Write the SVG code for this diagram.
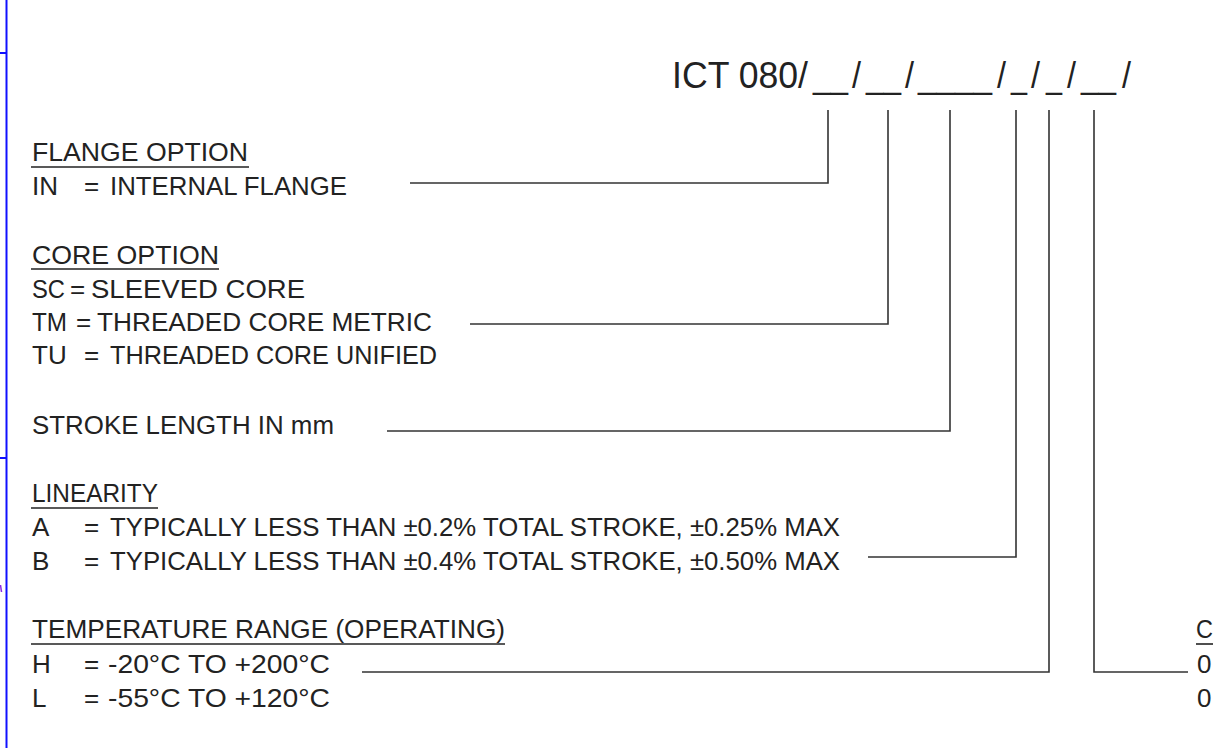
<svg xmlns="http://www.w3.org/2000/svg" width="1213" height="748" viewBox="0 0 1213 748">
<style>
  .t { font-family: "Liberation Sans", Arial, sans-serif; font-size: 26px; fill: #222; }
  .title { font-family: "Liberation Sans", Arial, sans-serif; font-size: 36px; fill: #222; }
  .ul { stroke: #222; stroke-width: 1.6; }
  .conn { fill: none; stroke: #333; stroke-width: 1.6; }
  .frame { stroke: #1010ff; stroke-width: 2; fill: none; }
</style>
<rect width="1213" height="748" fill="#ffffff"/>
<g id="frame">
  <line class="frame" x1="6.5" y1="0" x2="6.5" y2="748"/>
  <line class="frame" x1="0" y1="53" x2="6" y2="53" stroke-width="1.5"/>
  <line class="frame" x1="0" y1="458" x2="6" y2="458" stroke-width="1.5"/>
  <line x1="0.5" y1="585" x2="1.5" y2="592" stroke="#8a2be2" stroke-width="1.5"/>
</g>
<g id="title">
  <text class="title" y="88">
    <tspan x="672" textLength="136" lengthAdjust="spacingAndGlyphs">ICT 080/</tspan>
    <tspan x="813" textLength="35" lengthAdjust="spacingAndGlyphs">__</tspan>
    <tspan x="852" textLength="9" lengthAdjust="spacingAndGlyphs">/</tspan>
    <tspan x="866" textLength="35" lengthAdjust="spacingAndGlyphs">__</tspan>
    <tspan x="905" textLength="9" lengthAdjust="spacingAndGlyphs">/</tspan>
    <tspan x="918" textLength="74" lengthAdjust="spacingAndGlyphs">____</tspan>
    <tspan x="997" textLength="9" lengthAdjust="spacingAndGlyphs">/</tspan>
    <tspan x="1011" textLength="16" lengthAdjust="spacingAndGlyphs">_</tspan>
    <tspan x="1031" textLength="9" lengthAdjust="spacingAndGlyphs">/</tspan>
    <tspan x="1046" textLength="16" lengthAdjust="spacingAndGlyphs">_</tspan>
    <tspan x="1067" textLength="9" lengthAdjust="spacingAndGlyphs">/</tspan>
    <tspan x="1081" textLength="35" lengthAdjust="spacingAndGlyphs">__</tspan>
    <tspan x="1122" textLength="9" lengthAdjust="spacingAndGlyphs">/</tspan>
  </text>
</g>
<g id="flange-option">
  <text class="t" x="32" y="161" textLength="216" lengthAdjust="spacingAndGlyphs">FLANGE OPTION</text>
  <line class="ul" x1="31" y1="167" x2="249" y2="167"/>
  <text class="t" y="195"><tspan x="32">IN</tspan><tspan x="84">=</tspan><tspan x="110" textLength="237" lengthAdjust="spacingAndGlyphs">INTERNAL FLANGE</tspan></text>
</g>
<g id="core-option">
  <text class="t" x="32" y="264" textLength="187" lengthAdjust="spacingAndGlyphs">CORE OPTION</text>
  <line class="ul" x1="31" y1="269" x2="219" y2="269"/>
  <text class="t" y="298"><tspan x="32" textLength="33" lengthAdjust="spacingAndGlyphs">SC</tspan><tspan x="70">=</tspan><tspan x="91" textLength="214" lengthAdjust="spacingAndGlyphs">SLEEVED CORE</tspan></text>
  <text class="t" y="331"><tspan x="32" textLength="35" lengthAdjust="spacingAndGlyphs">TM</tspan><tspan x="76">=</tspan><tspan x="97" textLength="335" lengthAdjust="spacingAndGlyphs">THREADED CORE METRIC</tspan></text>
  <text class="t" y="364"><tspan x="32">TU</tspan><tspan x="84">=</tspan><tspan x="110" textLength="327" lengthAdjust="spacingAndGlyphs">THREADED CORE UNIFIED</tspan></text>
</g>
<g id="stroke-length">
  <text class="t" x="32" y="434" textLength="302" lengthAdjust="spacingAndGlyphs">STROKE LENGTH IN mm</text>
</g>
<g id="linearity">
  <text class="t" x="32" y="502" textLength="126" lengthAdjust="spacingAndGlyphs">LINEARITY</text>
  <line class="ul" x1="31" y1="508" x2="158" y2="508"/>
  <text class="t" y="536"><tspan x="32">A</tspan><tspan x="84">=</tspan><tspan x="110" textLength="730" lengthAdjust="spacingAndGlyphs">TYPICALLY LESS THAN ±0.2% TOTAL STROKE, ±0.25% MAX</tspan></text>
  <text class="t" y="570"><tspan x="32">B</tspan><tspan x="84">=</tspan><tspan x="110" textLength="730" lengthAdjust="spacingAndGlyphs">TYPICALLY LESS THAN ±0.4% TOTAL STROKE, ±0.50% MAX</tspan></text>
</g>
<g id="temperature-range">
  <text class="t" x="32" y="638" textLength="473" lengthAdjust="spacingAndGlyphs">TEMPERATURE RANGE (OPERATING)</text>
  <line class="ul" x1="31" y1="644" x2="505" y2="644"/>
  <text class="t" y="673"><tspan x="32">H</tspan><tspan x="84">=</tspan><tspan x="108" textLength="222" lengthAdjust="spacingAndGlyphs">-20°C TO +200°C</tspan></text>
  <text class="t" y="707"><tspan x="32">L</tspan><tspan x="84">=</tspan><tspan x="108" textLength="222" lengthAdjust="spacingAndGlyphs">-55°C TO +120°C</tspan></text>
</g>
<g id="last-option">
  <text class="t" x="1196" y="638" textLength="17" lengthAdjust="spacingAndGlyphs">C</text>
  <line class="ul" x1="1196" y1="644" x2="1213" y2="644"/>
  <text class="t" x="1197" y="673">0</text>
  <text class="t" x="1197" y="707">0</text>
</g>
<g id="connectors">
  <polyline class="conn" points="410,183 828,183 828,110"/>
  <polyline class="conn" points="470,324 888,324 888,110"/>
  <polyline class="conn" points="387,431 950,431 950,110"/>
  <polyline class="conn" points="868,557 1016,557 1016,110"/>
  <polyline class="conn" points="362,672 1049,672 1049,110"/>
  <polyline class="conn" points="1188,672 1094,672 1094,110"/>
</g>
</svg>
